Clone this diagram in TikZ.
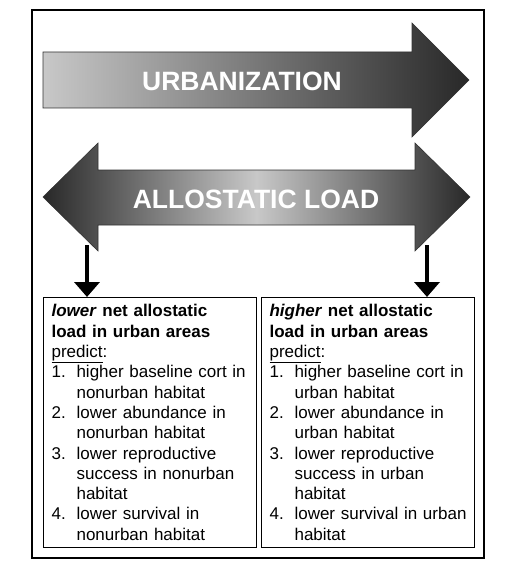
\documentclass[tikz,border=0pt]{standalone}
\usepackage{fontspec}
\setmainfont{Liberation Sans}
\usetikzlibrary{arrows.meta, positioning}
\definecolor{shadelight}{RGB}{200,200,200}
\definecolor{shadedark}{RGB}{40,40,40}
\newcommand{\listnum}[1]{\makebox[25pt][l]{#1}}

\begin{document}
\begin{tikzpicture}[
  x=1pt, y=-1pt,
  frame/.style={draw=black, line width=1.5pt},
  bigarrow/.style={draw=black!80, line width=0.6pt},
  arrowlabel/.style={text=white, font=\fontsize{26.5}{30}\selectfont\bfseries},
  predbox/.style={draw=black, line width=1.1pt, anchor=north west,
    minimum width=213pt, minimum height=250pt, text width=197pt,
    inner xsep=8pt, inner ysep=4pt, align=left,
    font=\fontsize{17}{20.3}\selectfont},
  downarrow/.style={line width=4pt, -{Triangle[width=25pt,length=15pt]}},
]
  \useasboundingbox (0,0) rectangle (514,564);
  \draw[frame] (32,10) rectangle (484,558);

  % urbanization arrow
  \draw[bigarrow, left color=shadelight, right color=shadedark]
    (43,52) -- (412,52) -- (412,23) -- (469,80) -- (412,137) -- (412,108)
    -- (43,108) -- cycle;
  \node[arrowlabel] (urb) at (242,81) {URBANIZATION};

  % allostatic load arrow
  \draw[bigarrow, left color=shadedark, right color=shadedark,
    middle color=shadelight]
    (43,197) -- (98,143) -- (98,170) -- (415,170) -- (415,143) -- (470,197)
    -- (415,251) -- (415,225) -- (98,225) -- (98,251) -- cycle;
  \node[arrowlabel] (load) at (256,199) {ALLOSTATIC LOAD};

  \coordinate (lowtop) at (87,245);
  \coordinate (hightop) at (427,245);

  \node[predbox] (lowbox) at (43,297) {
    \textbf{\textit{lower} net allostatic}\\
    \textbf{load in urban areas}\\
    \underline{predict}:\\
    \listnum{1.}higher baseline cort in\\
    \listnum{}nonurban habitat\\
    \listnum{2.}lower abundance in\\
    \listnum{}nonurban habitat\\
    \listnum{3.}lower reproductive\\
    \listnum{}success in nonurban\\
    \listnum{}habitat\\
    \listnum{4.}lower survival in\\
    \listnum{}nonurban habitat
  };
  \node[predbox] (highbox) at (261,297) {
    \textbf{\textit{higher} net allostatic}\\
    \textbf{load in urban areas}\\
    \underline{predict}:\\
    \listnum{1.}higher baseline cort in\\
    \listnum{}urban habitat\\
    \listnum{2.}lower abundance in\\
    \listnum{}urban habitat\\
    \listnum{3.}lower reproductive\\
    \listnum{}success in urban\\
    \listnum{}habitat\\
    \listnum{4.}lower survival in urban\\
    \listnum{}habitat
  };

  \draw[downarrow] (lowtop) -- (lowtop |- lowbox.north);
  \draw[downarrow] (hightop) -- (hightop |- highbox.north);
\end{tikzpicture}
\end{document}
